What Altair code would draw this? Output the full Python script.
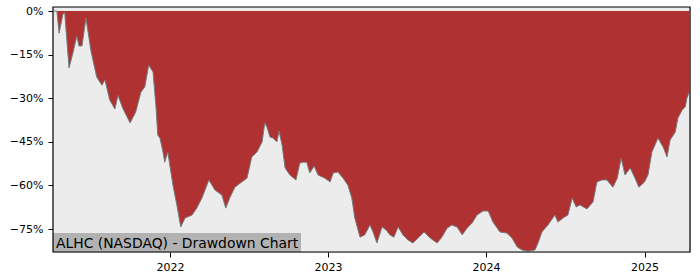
import altair as alt
import pandas as pd

dates = [
    "2021-04-08", "2021-04-15", "2021-04-20", "2021-04-29", "2021-05-03", "2021-05-13",
    "2021-05-22", "2021-05-31", "2021-06-05", "2021-06-12", "2021-06-21", "2021-07-03",
    "2021-07-16", "2021-07-28", "2021-08-04", "2021-08-15", "2021-08-27", "2021-09-03",
    "2021-09-14", "2021-10-01", "2021-10-14", "2021-10-26", "2021-11-04", "2021-11-13",
    "2021-11-23", "2021-11-30", "2021-12-04", "2021-12-09", "2021-12-16", "2021-12-20",
    "2021-12-27", "2022-01-08", "2022-01-17", "2022-01-26", "2022-02-05", "2022-02-21",
    "2022-03-04", "2022-03-16", "2022-04-01", "2022-04-15", "2022-05-01", "2022-05-10",
    "2022-05-20", "2022-05-31", "2022-06-16", "2022-06-28", "2022-07-09", "2022-07-21",
    "2022-08-02", "2022-08-08", "2022-08-13", "2022-08-20", "2022-08-27", "2022-09-05",
    "2022-09-10", "2022-09-17", "2022-09-24", "2022-10-05", "2022-10-19", "2022-10-28",
    "2022-11-04", "2022-11-13", "2022-11-20", "2022-11-30", "2022-12-09", "2022-12-25",
    "2023-01-06", "2023-01-13", "2023-01-24", "2023-02-05", "2023-02-16", "2023-02-25",
    "2023-03-04", "2023-03-16", "2023-03-27", "2023-04-08", "2023-04-15", "2023-04-24",
    "2023-05-06", "2023-05-15", "2023-05-24", "2023-06-02", "2023-06-12", "2023-06-23",
    "2023-07-05", "2023-07-16", "2023-07-28", "2023-08-11", "2023-08-25", "2023-09-10",
    "2023-09-21", "2023-10-03", "2023-10-14", "2023-10-26", "2023-11-07", "2023-11-18",
    "2023-11-30", "2023-12-11", "2023-12-25", "2024-01-06", "2024-01-17", "2024-02-02",
    "2024-02-18", "2024-03-01", "2024-03-13", "2024-03-24", "2024-04-07", "2024-04-23",
    "2024-04-30", "2024-05-09", "2024-05-23", "2024-06-08", "2024-06-15", "2024-06-27",
    "2024-07-08", "2024-07-18", "2024-07-27", "2024-08-05", "2024-08-21", "2024-09-04",
    "2024-09-13", "2024-09-25", "2024-10-06", "2024-10-20", "2024-10-30", "2024-11-08",
    "2024-11-17", "2024-11-29", "2024-12-10", "2024-12-19", "2025-01-01", "2025-01-09",
    "2025-01-18", "2025-02-01", "2025-02-13", "2025-02-22", "2025-03-01", "2025-03-13",
    "2025-03-19", "2025-03-29", "2025-04-05", "2025-04-09", "2025-04-14",
]

drawdown = [
    0.0, 0.0, -7.6, -1.0, -0.5, -19.6,
    -14.4, -8.6, -12.0, -12.0, -2.4, -14.0,
    -22.7, -25.5, -23.7, -30.6, -33.7, -29.0,
    -33.4, -38.5, -34.7, -27.9, -26.1, -18.6,
    -21.0, -33.4, -42.7, -43.7, -48.5, -52.0,
    -48.5, -59.9, -66.7, -74.3, -71.2, -70.2,
    -67.8, -64.3, -58.1, -61.6, -63.3, -67.8,
    -64.0, -60.6, -58.8, -57.5, -50.2, -48.5,
    -45.0, -38.5, -39.9, -43.3, -43.7, -45.0,
    -41.3, -46.1, -54.0, -56.4, -58.1, -52.3,
    -52.0, -52.0, -55.7, -53.3, -56.4, -57.5,
    -58.8, -55.7, -55.4, -57.5, -59.9, -64.3,
    -71.2, -77.8, -77.0, -73.6, -76.0, -79.8,
    -74.3, -75.3, -77.0, -77.8, -74.3, -77.0,
    -78.8, -79.8, -78.1, -76.0, -78.1, -79.8,
    -77.8, -74.7, -73.6, -74.3, -77.0, -74.7,
    -72.9, -70.2, -68.8, -68.8, -72.6, -76.0,
    -76.4, -78.1, -81.2, -82.2, -82.6, -82.2,
    -79.8, -76.0, -73.6, -70.2, -72.6, -71.2,
    -70.2, -64.3, -67.4, -66.7, -68.1, -65.7,
    -58.8, -58.1, -58.1, -60.6, -57.5, -50.6,
    -56.4, -54.0, -57.5, -60.6, -58.8, -56.4,
    -48.5, -43.7, -46.8, -50.2, -44.4, -41.6,
    -36.8, -34.0, -33.0, -29.9, -28.0,
]

y_ticks = [0, -15, -30, -45, -60, -75]
x_tick_years = [2022, 2023, 2024, 2025]
title_text = "ALHC (NASDAQ) - Drawdown Chart"

W, H = 637, 245

df = pd.DataFrame({"date": pd.to_datetime(dates), "dd": drawdown})
one = pd.DataFrame({"t": [title_text]})

x_enc = alt.X(
    "date:T",
    scale=alt.Scale(domain=["2021-04-06", "2025-04-16"], nice=False),
    axis=alt.Axis(
        values=[alt.DateTime(year=y, month=1, date=1) for y in x_tick_years],
        format="%Y", title=None, grid=False, labelFontSize=11, labelColor="black",
        tickColor="black", domain=False, tickSize=5, labelPadding=4,
        labelFont="DejaVu Sans",
    ),
)
y_enc = alt.Y(
    "dd:Q",
    scale=alt.Scale(domain=[-82.9, 1.4], nice=False, zero=False),
    axis=alt.Axis(
        values=y_ticks, title=None, grid=False, labelFontSize=11, labelColor="black",
        tickColor="black", domain=False, tickSize=5, labelPadding=5,
        labelFont="DejaVu Sans",
        labelExpr="datum.value == 0 ? '0%' : '\u2212' + abs(datum.value) + '%'",
    ),
)

bg = alt.Chart(one).mark_rect(color="#ececec").encode(
    x=alt.value(0), x2=alt.value(W), y=alt.value(0), y2=alt.value(H)
)
area = alt.Chart(df).mark_area(color="#b03132", opacity=1).encode(
    x=x_enc, y=y_enc, y2=alt.datum(0)
)
edge = alt.Chart(df).mark_line(color="#7a7a7a", strokeWidth=1).encode(
    x="date:T", y="dd:Q"
)
box = alt.Chart(one).mark_rect(color="#b2b2b2").encode(
    x=alt.value(0), x2=alt.value(248), y=alt.value(226), y2=alt.value(H)
)
label = alt.Chart(one).mark_text(
    align="left", baseline="alphabetic", fontSize=13.9, font="DejaVu Sans", color="black"
).encode(x=alt.value(3), y=alt.value(240.5), text="t:N")
frame = alt.Chart(one).mark_rect(fillOpacity=0, stroke="black", strokeWidth=1.2).encode(
    x=alt.value(0), x2=alt.value(W), y=alt.value(0), y2=alt.value(H)
)

chart = (
    alt.layer(bg, area, edge, box, label, frame)
    .properties(
        width=W, height=H,
        padding={"left": 53, "top": 7, "right": 10, "bottom": 28},
        autosize="none",
    )
    .configure_view(stroke=None)
    .configure(background="white")
)

chart.save("out.html", embed_options={"renderer": "svg", "actions": False})
